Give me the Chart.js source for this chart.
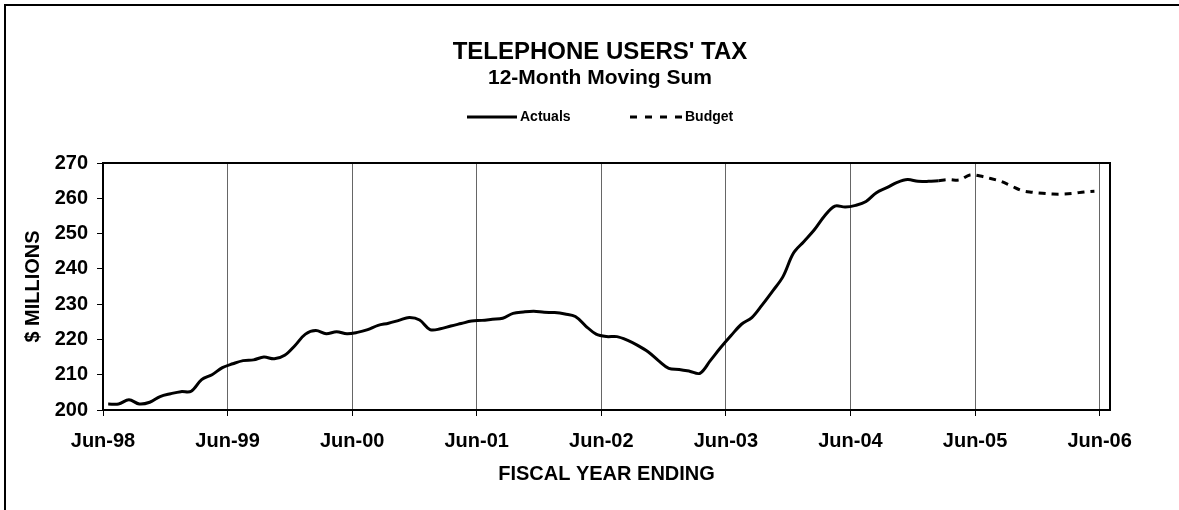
<!DOCTYPE html>
<html>
<head>
<meta charset="utf-8">
<script src="https://cdn.jsdelivr.net/npm/chart.js@4/dist/chart.umd.min.js"></script>
<style>
  html, body { margin: 0; padding: 0; background: #fff; }
  #wrap { width: 1179px; height: 510px; }
</style>
</head>
<body>
<div id="wrap"><canvas id="taxChart" width="1179" height="510"></canvas></div>
<script>
// 12-month moving sum, $ millions, one value per month starting Jul-98
const actuals = [
  201.7, 201.7, 202.9, 201.7, 202.2, 203.8, 204.6, 205.2, 205.3, 208.6, 210.0, 212.0,
  213.1, 214.0, 214.2, 215.0, 214.5, 215.5, 218.3, 221.5, 222.5, 221.6, 222.2, 221.6,
  222.0, 222.8, 224.0, 224.6, 225.4, 226.2, 225.5, 222.8, 223.0, 223.8, 224.5, 225.2,
  225.4, 225.7, 226.0, 227.4, 227.8, 228.0, 227.7, 227.6, 227.2, 226.5, 223.8, 221.5,
  220.8, 220.8, 219.8, 218.3, 216.5, 214.0, 211.8, 211.5, 211.0, 210.4, 214.0, 217.7,
  221.1, 224.3, 226.2, 229.8, 233.7, 237.8, 244.4, 247.7, 251.0, 255.0, 257.8, 257.5,
  258.0, 259.1, 261.6, 263.0, 264.5, 265.3, 264.8, 264.8, 265.0
];
// budget picks up from the last actual month
const budgetStart = 80;
const budget = [
  265.0, 265.3, 265.2, 266.6, 266.3, 265.6, 264.8, 263.5,
  262.2, 261.7, 261.4, 261.2, 261.2, 261.4, 261.8, 262.0
];
const tickMonths = [0, 12, 24, 36, 48, 60, 72, 84, 96];
const tickLabels = ['Jun-98', 'Jun-99', 'Jun-00', 'Jun-01', 'Jun-02', 'Jun-03', 'Jun-04', 'Jun-05', 'Jun-06'];

const FONT = 'Arial, "Liberation Sans", sans-serif';
Chart.defaults.font.family = FONT;
Chart.defaults.color = '#000';

// each monthly value sits in the middle of its month
const actualPts = actuals.map((v, i) => ({ x: i + 0.5, y: v }));
const budgetPts = budget.map((v, i) => ({ x: budgetStart + i + 0.5, y: v }));

// titles, legend, plot frame and page border drawn on top of the chart
const decorations = {
  id: 'decorations',
  afterDraw(chart) {
    const ctx = chart.ctx;
    const a = chart.chartArea;
    ctx.save();
    ctx.strokeStyle = '#000';
    ctx.lineWidth = 2;
    ctx.strokeRect(a.left, a.top, a.right - a.left, a.bottom - a.top);

    // page border (top and left)
    ctx.beginPath();
    ctx.moveTo(5, 510);
    ctx.lineTo(5, 5);
    ctx.lineTo(1179, 5);
    ctx.stroke();

    ctx.fillStyle = '#000';
    ctx.textAlign = 'center';
    ctx.textBaseline = 'alphabetic';
    ctx.font = 'bold 24px ' + FONT;
    ctx.fillText("TELEPHONE USERS' TAX", 600, 59);
    ctx.font = 'bold 21px ' + FONT;
    ctx.fillText('12-Month Moving Sum', 600, 84);

    // legend
    const ly = 117;
    ctx.lineWidth = 3;
    ctx.beginPath();
    ctx.moveTo(467, ly);
    ctx.lineTo(517, ly);
    ctx.stroke();
    ctx.setLineDash([7, 8]);
    ctx.beginPath();
    ctx.moveTo(630, ly);
    ctx.lineTo(683, ly);
    ctx.stroke();
    ctx.setLineDash([]);
    ctx.font = 'bold 14px ' + FONT;
    ctx.textAlign = 'left';
    ctx.textBaseline = 'middle';
    ctx.fillText('Actuals', 520, ly);
    ctx.fillText('Budget', 685, ly);
    ctx.restore();
  }
};

new Chart(document.getElementById('taxChart'), {
  type: 'line',
  data: {
    datasets: [
      {
        label: 'Budget',
        data: budgetPts,
        borderColor: '#000',
        borderWidth: 3,
        borderDash: [7, 6],
        pointRadius: 0,
        tension: 0.35,
        fill: false
      },
      {
        label: 'Actuals',
        data: actualPts,
        borderColor: '#000',
        borderWidth: 3,
        pointRadius: 0,
        tension: 0.35,
        fill: false
      }
    ]
  },
  options: {
    responsive: false,
    animation: false,
    devicePixelRatio: 1,
    layout: { padding: { top: 163, right: 69, bottom: 0, left: 0 } },
    plugins: {
      legend: { display: false },
      title: { display: false },
      tooltip: { enabled: false }
    },
    scales: {
      x: {
        type: 'linear',
        min: 0,
        max: 97,
        afterBuildTicks: scale => { scale.ticks = tickMonths.map(v => ({ value: v })); },
        afterFit: scale => { scale.height = 100; },
        ticks: {
          font: { size: 20, weight: 'bold' },
          padding: 13,
          maxRotation: 0,
          autoSkip: false,
          callback: (v, i) => tickLabels[i]
        },
        grid: { color: '#666', lineWidth: 1, tickLength: 6, tickColor: '#000' },
        border: { display: true, color: '#000', width: 2 },
        title: {
          display: true,
          text: 'FISCAL YEAR ENDING',
          font: { size: 20, weight: 'bold' },
          padding: { top: 0, bottom: 24 }
        }
      },
      y: {
        min: 200,
        max: 270,
        afterFit: scale => { scale.width = 103; },
        ticks: { stepSize: 10, font: { size: 20, weight: 'bold' }, padding: 9 },
        grid: { drawOnChartArea: false, tickLength: 6, tickColor: '#000' },
        border: { display: true, color: '#000', width: 2 },
        title: {
          display: true,
          text: '$ MILLIONS',
          font: { size: 20, weight: 'bold' },
          padding: { top: 21, bottom: 0 }
        }
      }
    }
  },
  plugins: [decorations]
});
</script>
</body>
</html>
